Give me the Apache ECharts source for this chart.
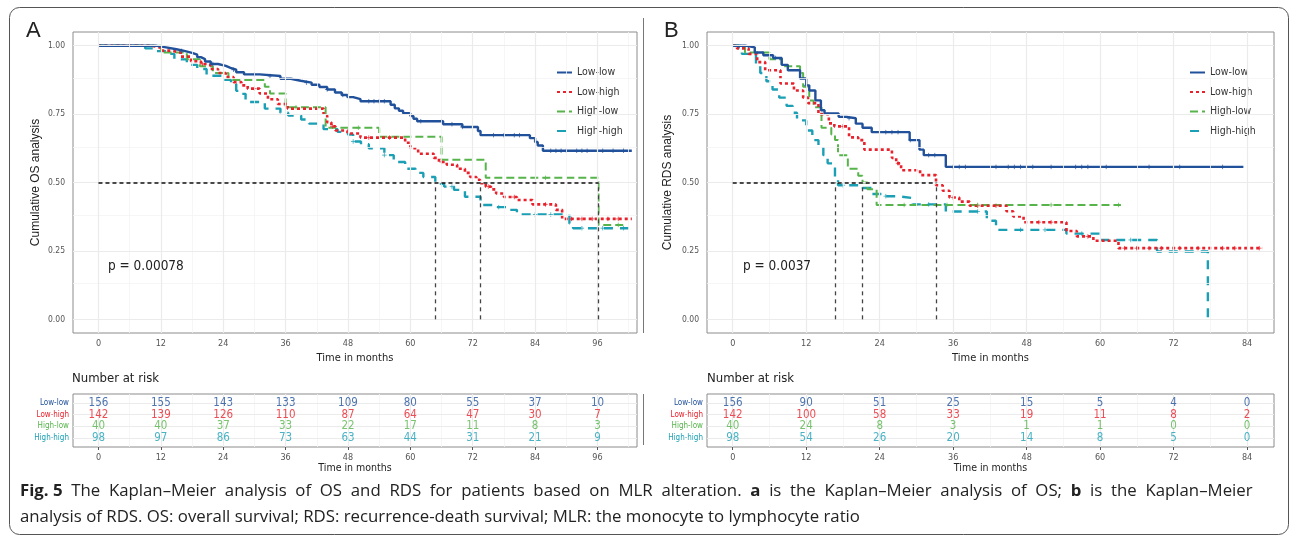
<!DOCTYPE html>
<html><head><meta charset="utf-8">
<script src="https://cdn.jsdelivr.net/npm/echarts@6/dist/echarts.min.js"></script>
<style>html,body{margin:0;padding:0;background:#fff;}#c{width:1295px;height:541px;}</style>
</head><body><div id="c"></div>
<script>
// ---------------- DATA ----------------
const groups = ['Low-low', 'Low-high', 'High-low', 'High-high'];
const osTicks = [0, 12, 24, 36, 48, 60, 72, 84, 96];
const rdsTicks = [0, 12, 24, 36, 48, 60, 72, 84];
const survTicks = [0, 0.25, 0.5, 0.75, 1];

// Panel A: overall survival, [month, cumulative survival]
const osLowLow = [[0,1],[11,0.994],[13,0.987],[15,0.981],[16.5,0.974],[18,0.967],[19,0.958],[19.7,0.951],[20.5,0.942],[21.6,0.933],[23,0.926],[24.5,0.919],[25.4,0.912],[26.5,0.903],[28,0.895],[31,0.889],[35,0.879],[37,0.872],[38.9,0.865],[41,0.857],[42.5,0.849],[44,0.84],[45.5,0.829],[46.8,0.82],[47.9,0.812],[49,0.805],[50.4,0.797],[56.2,0.784],[57,0.771],[57.8,0.762],[58.6,0.753],[60,0.743],[60.6,0.733],[61.3,0.724],[66.3,0.713],[70,0.703],[73,0.688],[73.5,0.673],[83,0.662],[84,0.648],[84.5,0.635],[85.5,0.616],[102.6,0.616]];
const osLowHigh = [[0,1],[10,0.993],[12,0.982],[14,0.975],[15.8,0.96],[17.8,0.943],[19.7,0.933],[21.5,0.915],[23,0.9],[24.5,0.885],[26,0.867],[27.5,0.855],[28.7,0.843],[31,0.825],[32.6,0.804],[34.5,0.787],[36.4,0.77],[43.3,0.745],[44,0.72],[44.8,0.705],[45.6,0.69],[47.9,0.679],[50.4,0.664],[59,0.645],[60,0.625],[61.5,0.605],[64.5,0.59],[65.5,0.575],[67,0.565],[69,0.55],[70.5,0.535],[71.5,0.52],[72.7,0.51],[73.4,0.497],[74.5,0.485],[75.5,0.475],[76.5,0.46],[78,0.447],[80.5,0.436],[83.5,0.42],[88,0.4],[89.2,0.367],[102.6,0.367]];
const osHighLow = [[0,1],[12,0.975],[17,0.95],[19.5,0.925],[22,0.9],[25,0.875],[32,0.85],[33,0.825],[36,0.775],[43.7,0.7],[54,0.667],[66,0.583],[74.5,0.517],[96.2,0.345],[101.2,0.345]];
const osHighHigh = [[0,1],[9,0.99],[11,0.98],[13,0.97],[14.6,0.95],[17,0.93],[19,0.915],[20.8,0.89],[24,0.875],[25.5,0.86],[26.5,0.835],[27.6,0.824],[28.3,0.794],[32,0.77],[35,0.755],[36.5,0.745],[39,0.73],[40.5,0.715],[43.3,0.695],[46,0.685],[48,0.675],[49,0.65],[50.5,0.64],[52,0.625],[55,0.6],[56.8,0.575],[59,0.55],[61,0.535],[62.5,0.52],[64.8,0.495],[66.5,0.485],[68.4,0.473],[70.5,0.448],[73.5,0.418],[76,0.41],[79,0.4],[80.5,0.383],[90.6,0.35],[91.3,0.333],[102.6,0.333]];

// Panel B: recurrence-death survival
const rdsLowLow = [[0,1],[2,0.994],[3.6,0.975],[5,0.965],[6.6,0.955],[8,0.93],[9,0.91],[11,0.88],[12,0.855],[12.5,0.836],[13.5,0.8],[14.4,0.764],[15,0.752],[17.3,0.74],[18.6,0.735],[20.1,0.715],[21.2,0.7],[22.7,0.684],[28.9,0.655],[30.5,0.62],[31.2,0.6],[34.8,0.557],[83.4,0.557]];
const rdsLowHigh = [[0,1],[0.7,0.99],[2.6,0.97],[4,0.94],[5.3,0.91],[7.8,0.862],[10,0.836],[11.5,0.81],[12.3,0.79],[14,0.75],[15.7,0.716],[16.6,0.705],[19,0.665],[20.5,0.655],[21.5,0.62],[26,0.59],[26.7,0.57],[27.5,0.545],[30.6,0.527],[33.2,0.49],[34.3,0.47],[35.4,0.445],[37,0.43],[38.7,0.415],[44.7,0.395],[45.8,0.376],[47.5,0.355],[54.5,0.323],[56.2,0.303],[58.9,0.287],[63,0.26],[86.5,0.26]];
const rdsHighLow = [[0,1],[2,0.975],[6,0.95],[8,0.925],[11,0.9],[11.5,0.85],[12.5,0.8],[13.2,0.775],[14.5,0.7],[16.1,0.675],[16.7,0.655],[17.2,0.6],[18.8,0.55],[20.5,0.525],[21.2,0.5],[22,0.475],[23.5,0.418],[63.4,0.418]];
const rdsHighHigh = [[0,1],[1,0.98],[1.5,0.97],[3.8,0.935],[4.5,0.9],[5.5,0.87],[6.5,0.84],[7.6,0.81],[8.8,0.78],[9.8,0.755],[10.5,0.727],[12,0.69],[13,0.655],[14,0.636],[14.8,0.6],[15.5,0.57],[16.7,0.51],[17.2,0.49],[21.2,0.48],[22.7,0.458],[25,0.45],[27,0.443],[29.4,0.42],[34.8,0.394],[41.5,0.36],[43,0.327],[54.5,0.313],[60,0.29],[69.3,0.248],[77.6,0]];

// censoring times (+ marks)
const osCensLowLow = [16,22,26,30,33,36,40,44,47,52,53,54,55,62,66,68,70,76,78,80,81,87,88,89,90,92,93,94,97,99,101];
const osCensLowHigh = [20,30,45,52,56,66,75,80,86,91,93,95,98,100];
const osCensHighLow = [38,50,86,100];
const osCensHighHigh = [49,55,66,68,77,84,87,93,97,101];
const rdsCensLowLow = [7,12,19,25,26,27,29,32,33,36,37,38,43,45,46,47,49,52,56,57,58,61,68,73,80];
const rdsCensLowHigh = [18,27,36,40,43,50,52,58,64,66,68,70,73,76,80,82,86];
const rdsCensHighLow = [28,35,40,52,63];
const rdsCensHighHigh = [18,25,32,40,47,51,57,65,72];

// median survival times
const osMedians = [64.8, 73.4, 96.2];
const rdsMedians = [16.7, 21.2, 33.2];

// numbers at risk
const osRiskLowLow = [156,155,143,133,109,80,55,37,10];
const osRiskLowHigh = [142,139,126,110,87,64,47,30,7];
const osRiskHighLow = [40,40,37,33,22,17,11,8,3];
const osRiskHighHigh = [98,97,86,73,63,44,31,21,9];
const rdsRiskLowLow = [156,90,51,25,15,5,4,0];
const rdsRiskLowHigh = [142,100,58,33,19,11,8,2];
const rdsRiskHighLow = [40,24,8,3,1,1,0,0];
const rdsRiskHighHigh = [98,54,26,20,14,8,5,0];

const osPText = 'p = 0.00078';
const rdsPText = 'p = 0.0037';

// ---------------- STYLE ----------------
const colors = ['#21519A', '#E8212B', '#56B44B', '#1B9FB4'];
const lineTypes = ['solid', [3, 3], [8, 4], [9, 7]];
const lineWidths = [2.4, 2.6, 2.0, 2.4];
const NARROW = "'Liberation Sans Narrow','Arial Narrow','DejaVu Sans Condensed',sans-serif";
const SANS = "'Liberation Sans',Arial,sans-serif";
const GRIDC = '#EBEBEB';
const MINORC = '#F4F4F4';

const chart = echarts.init(document.getElementById('c'), null, {renderer: 'canvas'});

function stepValue(curve, t) {
  let v = curve[0][1];
  for (const p of curve) { if (p[0] <= t) v = p[1]; else break; }
  return v;
}

const gridBase = {show: true, borderColor: '#8C8C8C', borderWidth: 1, backgroundColor: '#fff'};
const plotGrids = [
  Object.assign({left: 73, top: 32, width: 564, height: 301}, gridBase),
  Object.assign({left: 707, top: 32, width: 567, height: 301}, gridBase),
  Object.assign({left: 73, top: 394, width: 564, height: 53}, gridBase),
  Object.assign({left: 707, top: 394, width: 567, height: 53}, gridBase)
];

const xRanges = [[-4.9, 103.6], [-4.2, 88.4], [-4.9, 103.6], [-4.2, 88.4]];
const xTickSets = [osTicks, rdsTicks, osTicks, rdsTicks];

const xAxes = xRanges.map((r, i) => ({
  type: 'value', gridIndex: i, min: r[0], max: r[1],
  name: 'Time in months', nameLocation: 'middle', nameGap: i < 2 ? 16 : 16,
  nameTextStyle: {fontFamily: NARROW, fontSize: i < 2 ? 11 : 10.5, color: '#222'},
  axisLine: {show: false},
  splitLine: {show: false},
  axisTick: {show: true, customValues: xTickSets[i], length: 3, lineStyle: {color: '#555'}},
  axisLabel: {customValues: xTickSets[i], margin: 6, fontFamily: NARROW, fontSize: 9, color: '#555'}
}));

const rowVals = [1, 2, 3, 4];
const yAxes = [
  {name: 'Cumulative OS analysis', gap: 31},
  {name: 'Cumulative RDS analysis', gap: 33}
].map((c, i) => ({
  type: 'value', gridIndex: i, min: -0.05, max: 1.05,
  name: c.name, nameLocation: 'middle', nameGap: c.gap, nameRotate: 90,
  nameTextStyle: {fontFamily: SANS, fontSize: 12, color: '#222'},
  axisLine: {show: false}, splitLine: {show: false},
  axisTick: {show: true, customValues: survTicks, length: 3, lineStyle: {color: '#555'}},
  axisLabel: {customValues: survTicks, margin: 8, fontFamily: NARROW, fontSize: 8.5, color: '#555',
    formatter: v => Number(v).toFixed(2)}
})).concat([2, 3].map(i => ({
  type: 'value', gridIndex: i, min: 0.25, max: 4.75,
  axisLine: {show: false}, splitLine: {show: false},
  axisTick: {show: true, customValues: rowVals, length: 3, lineStyle: {color: '#555'}},
  axisLabel: {customValues: rowVals, margin: 4, fontFamily: NARROW, fontSize: 8,
    formatter: v => '{g' + (4 - Math.round(v)) + '|' + groups[4 - Math.round(v)] + '}',
    rich: {g0: {color: colors[0], fontFamily: NARROW, fontSize: 8}, g1: {color: colors[1], fontFamily: NARROW, fontSize: 8},
           g2: {color: colors[2], fontFamily: NARROW, fontSize: 8}, g3: {color: colors[3], fontFamily: NARROW, fontSize: 8}}}
})));

const series = [];

function gridLineSeries(idx, xMajor, xMinor, yMajor, yMinor) {
  const data = [];
  xMinor.forEach(v => data.push({xAxis: v, lineStyle: {color: MINORC, width: 0.8}}));
  yMinor.forEach(v => data.push({yAxis: v, lineStyle: {color: MINORC, width: 0.8}}));
  xMajor.forEach(v => data.push({xAxis: v, lineStyle: {color: GRIDC, width: 1.2}}));
  yMajor.forEach(v => data.push({yAxis: v, lineStyle: {color: GRIDC, width: 1.2}}));
  series.push({
    type: 'line', xAxisIndex: idx, yAxisIndex: idx, data: [], silent: true, z: 1,
    markLine: {silent: true, symbol: ['none', 'none'], label: {show: false}, animation: false,
      lineStyle: {type: 'solid'}, data: data}
  });
}
const osMinor = osTicks.map(v => v + 6);
const rdsMinor = rdsTicks.map(v => v + 6).filter(v => v < 88);
const survMinor = [0.125, 0.375, 0.625, 0.875];
gridLineSeries(0, osTicks, osMinor, survTicks, survMinor);
gridLineSeries(1, rdsTicks, rdsMinor, survTicks, survMinor);
gridLineSeries(2, osTicks, osMinor, rowVals, []);
gridLineSeries(3, rdsTicks, rdsMinor, rowVals, []);

const osCurves = [osLowLow, osLowHigh, osHighLow, osHighHigh];
const rdsCurves = [rdsLowLow, rdsLowHigh, rdsHighLow, rdsHighHigh];
const osCens = [osCensLowLow, osCensLowHigh, osCensHighLow, osCensHighHigh];
const rdsCens = [rdsCensLowLow, rdsCensLowHigh, rdsCensHighLow, rdsCensHighHigh];

const PLUS = 'path://M0,5 L10,5 M5,0 L5,10';

[[osCurves, osCens, 0], [rdsCurves, rdsCens, 1]].forEach(([curves, cens, idx]) => {
  curves.forEach((cv, g) => {
    series.push({
      name: groups[g], type: 'line', step: 'end', xAxisIndex: idx, yAxisIndex: idx,
      data: cv, showSymbol: false, symbol: 'none', z: 3 + (3 - g) * 0.1, animation: false,
      lineStyle: {color: colors[g], width: lineWidths[g], type: lineTypes[g], cap: 'butt'},
      itemStyle: {color: colors[g]}
    });
    series.push({
      type: 'scatter', xAxisIndex: idx, yAxisIndex: idx, z: 3.5, animation: false,
      data: cens[g].map(t => [t, stepValue(cv, t)]), symbol: PLUS, symbolSize: 4.5, silent: true,
      itemStyle: {color: 'none', borderColor: colors[g], borderWidth: 0.9}
    });
  });
});

function medianSeries(idx, meds) {
  const maxM = Math.max(...meds);
  const data = [[{coord: [0, 0.5], lineStyle: {color: '#111', width: 1.6, type: [4, 3]}}, {coord: [maxM, 0.5]}]];
  meds.forEach(m => data.push([{coord: [m, 0], lineStyle: {color: '#444', width: 1.3, type: [4, 4]}}, {coord: [m, 0.5]}]));
  series.push({
    type: 'line', xAxisIndex: idx, yAxisIndex: idx, data: [], silent: true, z: 4,
    markLine: {silent: true, symbol: ['none', 'none'], label: {show: false}, animation: false, data: data}
  });
}
medianSeries(0, osMedians);
medianSeries(1, rdsMedians);

const osRisk = [osRiskLowLow, osRiskLowHigh, osRiskHighLow, osRiskHighHigh];
const rdsRisk = [rdsRiskLowLow, rdsRiskLowHigh, rdsRiskHighLow, rdsRiskHighHigh];
[[osRisk, osTicks, 2], [rdsRisk, rdsTicks, 3]].forEach(([risk, ticks, idx]) => {
  risk.forEach((arr, g) => {
    series.push({
      type: 'scatter', xAxisIndex: idx, yAxisIndex: idx, silent: true, z: 5, animation: false,
      symbolSize: 1, itemStyle: {color: 'rgba(0,0,0,0)'},
      data: arr.map((n, k) => [ticks[k], 4 - g, n]),
      label: {show: true, position: 'inside', formatter: p => String(p.value[2]),
        color: colors[g], fontFamily: NARROW, fontSize: 11.5}
    });
  });
});

const legendCommon = {
  data: groups, orient: 'vertical', itemWidth: 15, itemHeight: 8, itemGap: 8.5, padding: [0, 3, 0, 0],
  backgroundColor: '#fff', itemStyle: {opacity: 0},
  textStyle: {fontFamily: NARROW, fontSize: 10.5, color: '#333', padding: [0, 0, 0, 0]}, selectedMode: false
};

// caption (first line justified to the full width, like the journal layout)
const captionLine1 = ['{b|Fig. 5}', 'The', 'Kaplan–Meier', 'analysis', 'of', 'OS', 'and', 'RDS', 'for', 'patients', 'based', 'on', 'MLR', 'alteration.', '{b|a}', 'is', 'the', 'Kaplan–Meier', 'analysis', 'of', 'OS;', '{b|b}', 'is', 'the', 'Kaplan–Meier'];
const captionLine2 = 'analysis of RDS. OS: overall survival; RDS: recurrence-death survival; MLR: the monocyte to lymphocyte ratio';
const captionText = captionLine1.join('  ') + '\n' + captionLine2;
const CAPFONT = "'Open Sans', sans-serif";

const option = {
  animation: false,
  backgroundColor: '#fff',
  grid: plotGrids,
  xAxis: xAxes,
  yAxis: yAxes,
  legend: [
    Object.assign({left: 556, top: 67}, legendCommon),
    Object.assign({left: 1189, top: 67}, legendCommon)
  ],
  series: series,
  graphic: [
    {type: 'rect', shape: {x: 9.5, y: 7.5, width: 1279, height: 527, r: 10}, style: {fill: 'none', stroke: '#555', lineWidth: 1}, z: 100},
    {type: 'line', shape: {x1: 643.5, y1: 18, x2: 643.5, y2: 333}, style: {stroke: '#777', lineWidth: 1}, z: 100},
    {type: 'line', shape: {x1: 643.5, y1: 394, x2: 643.5, y2: 445}, style: {stroke: '#777', lineWidth: 1}, z: 100},
    {type: 'text', left: 26, top: 20, style: {text: 'A', fontSize: 22, fontFamily: SANS, fill: '#222'}, z: 100},
    {type: 'text', left: 664, top: 20, style: {text: 'B', fontSize: 22, fontFamily: SANS, fill: '#222'}, z: 100},
    {type: 'text', left: 108, top: 259, style: {text: osPText, fontSize: 13.5, fontFamily: NARROW, fill: '#222'}, z: 100},
    {type: 'text', left: 743, top: 259, style: {text: rdsPText, fontSize: 13.5, fontFamily: NARROW, fill: '#222'}, z: 100},
    {type: 'text', left: 72, top: 372, style: {text: 'Number at risk', fontSize: 13, fontFamily: NARROW, fill: '#222'}, z: 100},
    {type: 'text', left: 707, top: 372, style: {text: 'Number at risk', fontSize: 13, fontFamily: NARROW, fill: '#222'}, z: 100},
    {type: 'text', left: 20, top: 478, style: {text: captionText, fontSize: 16.8, fontFamily: CAPFONT, fill: '#222', lineHeight: 26,
      rich: {b: {fontWeight: 'bold', fontSize: 16.8, fontFamily: CAPFONT, fill: '#222', lineHeight: 26}}}, z: 100}
  ]
};
chart.setOption(option);
</script></body></html>
